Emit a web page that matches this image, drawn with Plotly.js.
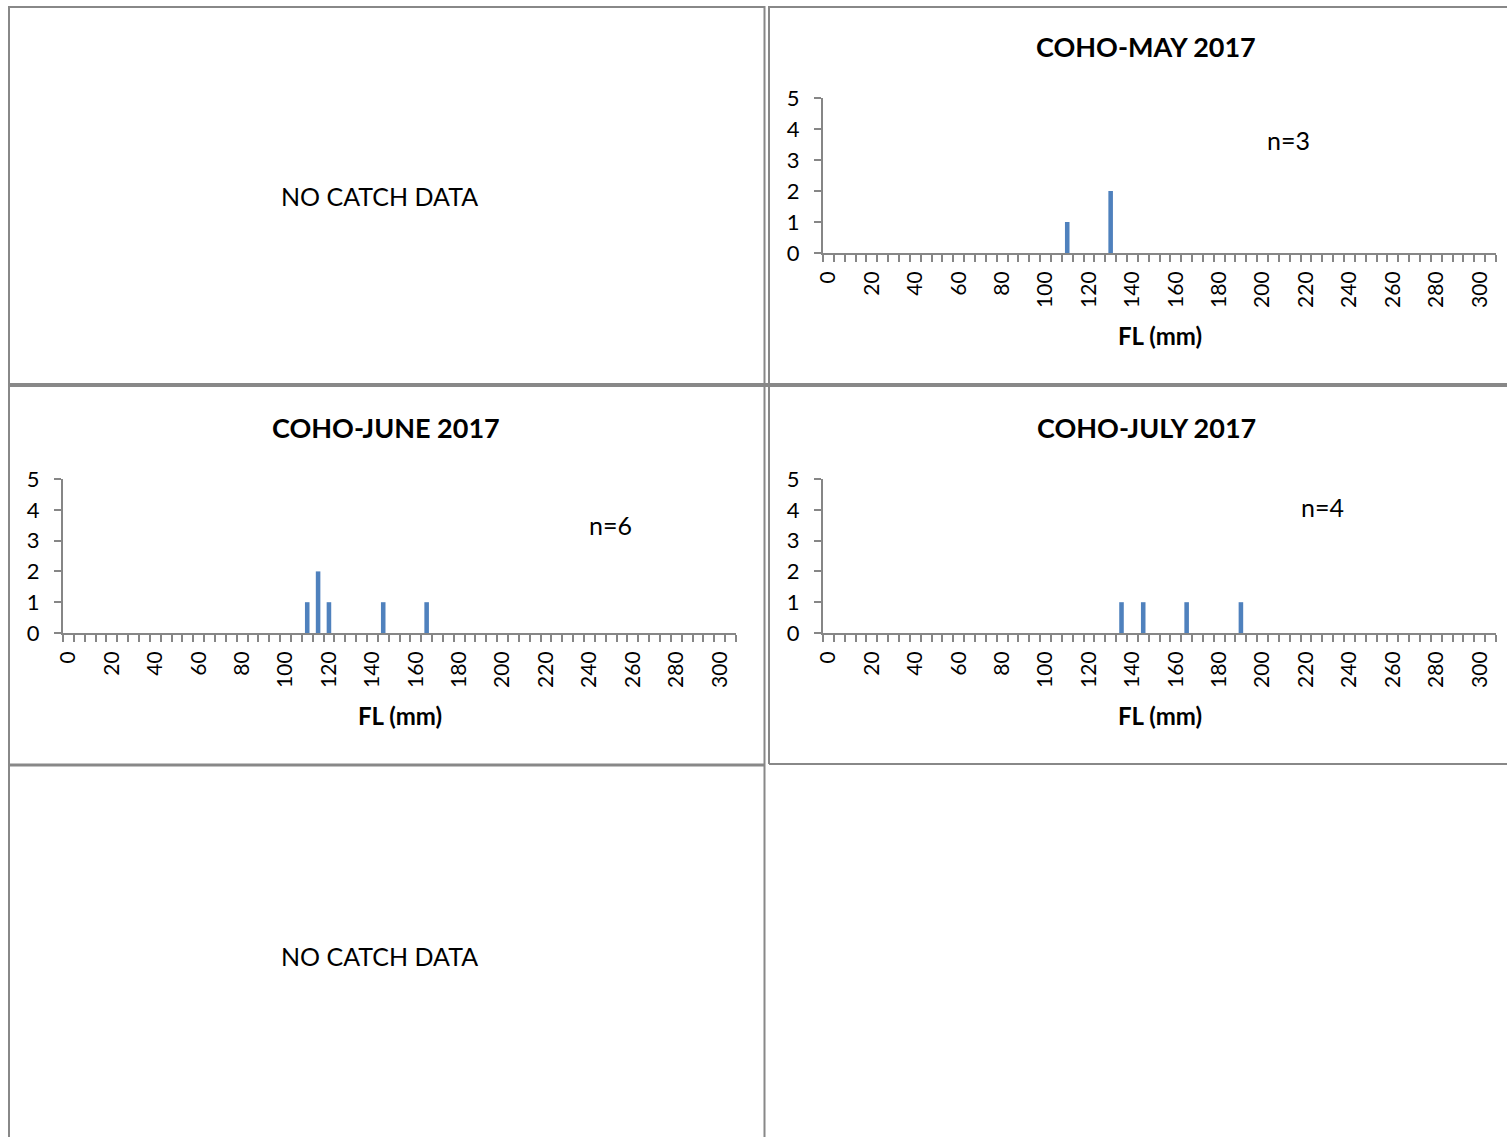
<!DOCTYPE html>
<html>
<head>
<meta charset="utf-8">
<script src="https://cdn.plot.ly/plotly-3.0.1.min.js"></script>
<style>
  html, body { margin: 0; padding: 0; background: #fff; }
  #chart { width: 1507px; height: 1137px; }
</style>
</head>
<body>
<div id="chart"></div>
<script>
// ---- data ----
const tickLabels = ['0','20','40','60','80','100','120','140','160','180','200','220','240','260','280','300'];
const tickValues = [0,20,40,60,80,100,120,140,160,180,200,220,240,260,280,300];
const bins = [0,5,10,15,20,25,30,35,40,45,50,55,60,65,70,75,80,85,90,95,100,105,110,115,120,125,130,135,140,145,
              150,155,160,165,170,175,180,185,190,195,200,205,210,215,220,225,230,235,240,245,250,255,260,265,270,275,
              280,285,290,295,300,305];

const mayFL = [110, 130];
const mayCount = [1, 2];
const juneFL = [110, 115, 120, 145, 165];
const juneCount = [1, 2, 1, 1, 1];
const julyFL = [135, 145, 165, 190];
const julyCount = [1, 1, 1, 1];

const titles = ['COHO-MAY 2017', 'COHO-JUNE 2017', 'COHO-JULY 2017'];
const nLabels = ['n=3', 'n=6', 'n=4'];
const noData = 'NO CATCH DATA';
const axisTitle = 'FL (mm)';

// ---- layout helpers ----
const W = 1507, H = 1137;
const FONT = 'Lato, "Noto Sans", sans-serif';
const AX = '#868686';
const BAR = '#4F81BD';
const px = x => x / W;
const py = y => 1 - y / H;

const binEdges = bins.map(b => b - 2.5).concat([bins[bins.length - 1] + 2.5]);

function xAxis(x0, x1, anchor) {
  return {
    domain: [px(x0), px(x1)], anchor: anchor,
    range: [bins[0] - 2.5, bins[bins.length - 1] + 2.5],
    tickmode: 'array', tickvals: tickValues, ticktext: tickLabels,
    tickangle: -90, ticks: '', showgrid: false, zeroline: false,
    showline: true, linecolor: AX, linewidth: 2,
    ticklabelstandoff: 8,
    tickfont: {family: FONT, size: 21, color: '#000'},
    minor: {tickmode: 'array', tickvals: binEdges, ticks: 'outside', ticklen: 7, tickwidth: 2, tickcolor: AX, showgrid: false},
    automargin: false, fixedrange: true
  };
}
function yAxis(y0, y5, anchor) {
  return {
    domain: [py(y0), py(y5)], anchor: anchor,
    range: [0, 5], tickmode: 'linear', tick0: 0, dtick: 1,
    ticks: 'outside', ticklen: 7, tickwidth: 2, tickcolor: AX,
    showline: true, linecolor: AX, linewidth: 2,
    showgrid: false, zeroline: false,
    ticklabelstandoff: 10,
    tickfont: {family: FONT, size: 22, color: '#000'},
    automargin: false, fixedrange: true
  };
}

function barTrace(xs, ys, xa, ya) {
  return {type: 'bar', x: xs, y: ys, xaxis: xa, yaxis: ya,
          width: xs.map(() => 2.1), marker: {color: BAR}, hoverinfo: 'x+y', showlegend: false};
}

const data = [
  barTrace(mayFL, mayCount, 'x', 'y'),
  barTrace(juneFL, juneCount, 'x2', 'y2'),
  barTrace(julyFL, julyCount, 'x3', 'y3')
];

function txt(text, x, y, size, bold) {
  return {xref: 'paper', yref: 'paper', x: px(x), y: py(y), xanchor: 'center', yanchor: 'middle',
          text: bold ? '<b>' + text + '</b>' : text, showarrow: false,
          font: {family: FONT, size: size, color: '#000'}};
}

const annotations = [
  txt(noData, 379, 196, 25, false),
  txt(noData, 379, 956, 25, false),
  txt(titles[0], 1146, 46, 27, true),
  txt(titles[1], 386, 427, 27, true),
  txt(titles[2], 1146, 427, 27, true),
  txt(nLabels[0], 1288, 140, 25, false),
  txt(nLabels[1], 610, 525, 25, false),
  txt(nLabels[2], 1322, 507, 25, false),
  txt(axisTitle, 1160, 335, 24, true),
  txt(axisTitle, 400, 715, 24, true),
  txt(axisTitle, 1160, 715, 24, true)
];

function line(x0, y0, x1, y1, w) {
  return {type: 'line', xref: 'paper', yref: 'paper', x0: px(x0), y0: py(y0), x1: px(x1), y1: py(y1),
          line: {color: '#888888', width: w}, layer: 'above'};
}

const shapes = [
  line(9, 6, 9, 1137, 2),          // outer left
  line(8, 7, 765, 7, 2),           // top left cell
  line(769, 7, 1507, 7, 2),        // top right cell
  line(764.5, 6, 764.5, 1137, 2),  // left column right border
  line(769, 6, 769, 764, 2),       // right column left border (rows 1-2)
  line(8, 385, 1507, 385, 4),      // row 1 / row 2
  line(8, 765, 765, 765, 3),       // row 2 / row 3 (left)
  line(769, 764, 1507, 764, 2)     // row 2 / row 3 (right)
];

const layout = {
  width: W, height: H,
  margin: {l: 0, r: 0, t: 0, b: 0, pad: 0},
  paper_bgcolor: '#fff', plot_bgcolor: 'rgba(0,0,0,0)',
  showlegend: false,
  xaxis: xAxis(823, 1496, 'y'),
  yaxis: yAxis(253, 98, 'x'),
  xaxis2: xAxis(63, 736, 'y2'),
  yaxis2: yAxis(633, 479, 'x2'),
  xaxis3: xAxis(823, 1496, 'y3'),
  yaxis3: yAxis(633, 479, 'x3'),
  annotations: annotations,
  shapes: shapes,
  font: {family: FONT}
};

Plotly.newPlot('chart', data, layout, {displayModeBar: false, staticPlot: true});
</script>
</body>
</html>
